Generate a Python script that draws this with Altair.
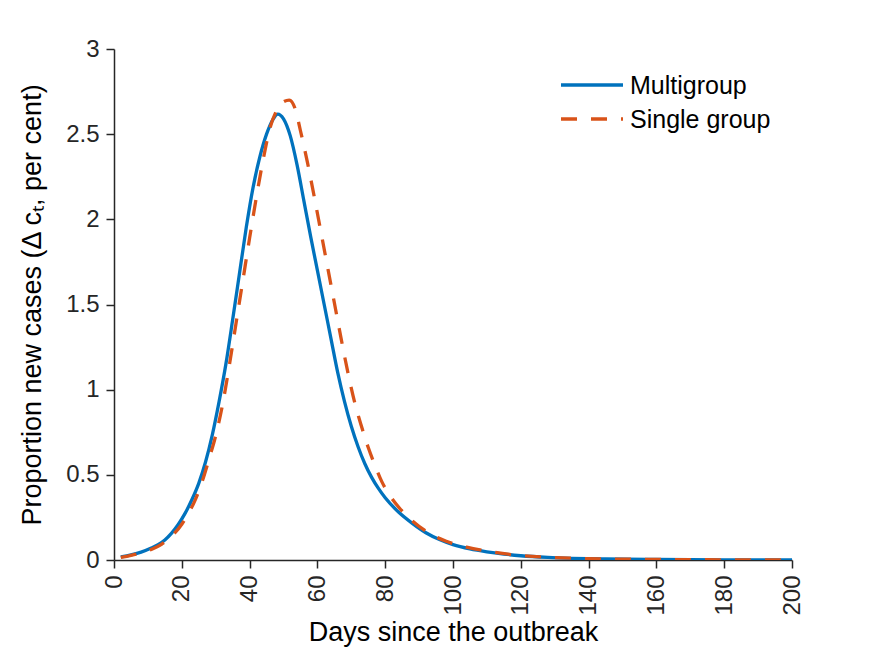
import altair as alt
import pandas as pd

# Multigroup (solid blue)
multi_days = [2, 5, 8, 11, 13, 15, 17, 19, 21, 23, 25, 27, 29, 31, 33, 35, 37, 39, 41, 43, 45, 47,
              48.3, 50, 52, 54, 56, 58, 60, 62, 64, 66, 68, 70, 72, 74, 76, 78, 80, 84, 88, 92, 96,
              100, 105, 110, 115, 120, 128, 135, 145, 160, 180, 200]
multi_vals = [0.018, 0.03, 0.046, 0.07, 0.09, 0.118, 0.158, 0.21, 0.275, 0.355, 0.45, 0.575, 0.735,
              0.93, 1.15, 1.41, 1.68, 1.95, 2.185, 2.365, 2.5, 2.59, 2.618, 2.59, 2.49, 2.32, 2.11,
              1.90, 1.70, 1.50, 1.30, 1.10, 0.93, 0.785, 0.665, 0.565, 0.485, 0.42, 0.365, 0.28,
              0.215, 0.16, 0.12, 0.09, 0.065, 0.048, 0.035, 0.025, 0.015, 0.01, 0.006, 0.003,
              0.001, 0.0005]

# Single group (dashed orange)
single_days = [2, 5, 8, 11, 14, 17, 20, 22, 24, 26, 28, 30, 32, 34, 36, 38, 40, 42, 44, 46, 48, 50,
               51.7, 53.5, 55, 57, 59, 61, 63, 65, 67, 69, 71, 73, 75, 77, 79, 81, 84, 88, 92, 98,
               104, 110, 118, 128, 140, 155, 175, 200]
single_vals = [0.015, 0.027, 0.042, 0.062, 0.092, 0.14, 0.21, 0.275, 0.355, 0.46, 0.59, 0.73, 0.91,
               1.14, 1.39, 1.64, 1.89, 2.13, 2.35, 2.535, 2.64, 2.69, 2.70, 2.645, 2.52, 2.34, 2.14,
               1.93, 1.72, 1.51, 1.30, 1.10, 0.925, 0.785, 0.66, 0.555, 0.46, 0.39, 0.31, 0.23,
               0.17, 0.11, 0.075, 0.052, 0.03, 0.016, 0.008, 0.004, 0.0015, 0.0005]

series_names = ["Multigroup", "Single group"]
series_colors = ["#0072BD", "#D95319"]
x_ticks = list(range(0, 201, 20))
y_ticks = [0, 0.5, 1, 1.5, 2, 2.5, 3]

FONT = "Liberation Sans"
AX = "#262626"
DASH = [16, 14]
LW = 3.3

df = pd.concat([
    pd.DataFrame({"day": multi_days, "val": multi_vals, "series": series_names[0]}),
    pd.DataFrame({"day": single_days, "val": single_vals, "series": series_names[1]}),
])

x = alt.X("day:Q", scale=alt.Scale(domain=[0, 200], nice=False),
          axis=alt.Axis(values=x_ticks, labelAngle=270, title="Days since the outbreak",
                        titleY=80, titleBaseline="alphabetic"))
y = alt.Y("val:Q", scale=alt.Scale(domain=[0, 3], nice=False),
          axis=alt.Axis(values=y_ticks, labelExpr="'' + datum.value",
                        title="Proportion new cases (\u0394 c\u209c, per cent)",
                        titleX=-74, titleBaseline="alphabetic"))

multi = alt.Chart(df).transform_filter(alt.datum.series == series_names[0]).mark_line(
    color=series_colors[0], strokeWidth=LW, interpolate="monotone", clip=True
).encode(x=x, y=y)

single = alt.Chart(df).transform_filter(alt.datum.series == series_names[1]).mark_line(
    color=series_colors[1], strokeWidth=LW, strokeDash=DASH, interpolate="monotone", clip=True
).encode(x=x, y=y)

leg = pd.DataFrame({"series": series_names})

leg_solid = alt.Chart(leg).transform_filter(alt.datum.series == series_names[0]).mark_rule(
    strokeWidth=LW, color=series_colors[0]
).encode(x=alt.value(447), x2=alt.value(509), y=alt.value(36))
leg_dash = alt.Chart(leg).transform_filter(alt.datum.series == series_names[1]).mark_rule(
    strokeWidth=LW, color=series_colors[1], strokeDash=DASH
).encode(x=alt.value(447), x2=alt.value(509), y=alt.value(70))
leg_t1 = alt.Chart(leg).transform_filter(alt.datum.series == series_names[0]).mark_text(
    align="left", baseline="middle", font=FONT, fontSize=25, color="#000000"
).encode(x=alt.value(516), y=alt.value(37), text="series:N")
leg_t2 = alt.Chart(leg).transform_filter(alt.datum.series == series_names[1]).mark_text(
    align="left", baseline="middle", font=FONT, fontSize=25, color="#000000"
).encode(x=alt.value(516), y=alt.value(71), text="series:N")

chart = alt.layer(multi, single, leg_solid, leg_dash, leg_t1, leg_t2).properties(
    width=678, height=511,
    autosize=alt.AutoSizeParams(type="none"),
    padding={"left": 106, "top": 41, "right": 60, "bottom": 87},
).configure_view(stroke=None).configure_axis(
    grid=False, domainColor=AX, domainWidth=1.5, tickColor=AX, tickWidth=1.5, tickSize=8,
    labelColor=AX, labelFont=FONT, labelFontSize=24, titleFont=FONT, titleFontSize=27,
    titleColor="#000000", titleFontWeight="normal", labelPadding=7
)

chart.save("out.html", embed_options={"renderer": "svg", "actions": False})
